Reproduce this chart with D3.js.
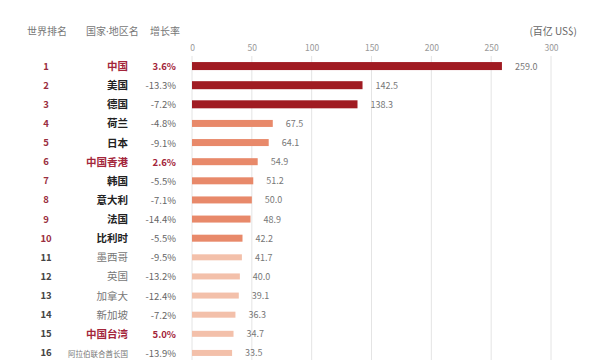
<!DOCTYPE html>
<html><head><meta charset="utf-8">
<script src="https://cdn.jsdelivr.net/npm/d3@7"></script>
<style>body{margin:0;background:#fff}svg{display:block}</style>
</head><body>
<svg id="c" width="600" height="360"></svg>
<script>
const ranks = [1,2,3,4,5,6,7,8,9,10,11,12,13,14,15,16];
const countries = ["中国","美国","德国","荷兰","日本","中国香港","韩国","意大利","法国","比利时","墨西哥","英国","加拿大","新加坡","中国台湾","阿拉伯联合酋长国"];
const growth = ["3.6%","-13.3%","-7.2%","-4.8%","-9.1%","2.6%","-5.5%","-7.1%","-14.4%","-5.5%","-9.5%","-13.2%","-12.4%","-7.2%","5.0%","-13.9%"];
const values = [259.0,142.5,138.3,67.5,64.1,54.9,51.2,50.0,48.9,42.2,41.7,40.0,39.1,36.3,34.7,33.5];
const tiers = [1,1,1,2,2,2,2,2,2,2,3,3,3,3,3,3];
const highlight = [1,0,0,0,0,1,0,0,0,0,0,0,0,0,1,0];
const xTicks = [0,50,100,150,200,250,300];

const svg = d3.select("#c");
const font = "'Noto Sans CJK SC','Noto Sans',sans-serif";
const x = d3.scaleLinear().domain([0,300]).range([192,551]);
const y = d3.scaleBand().domain(ranks).range([56.5,362.5]).paddingInner(0);
const cy = r => y(r) + y.bandwidth()/2;

const tierColor = {1:"#a01b22",2:"#e8896a",3:"#f3c0aa"};
const tierH = {1:8,2:7,3:6};

// gridlines
svg.append("g").selectAll("line").data(xTicks).join("line")
  .attr("x1",d=>x(d)).attr("x2",d=>x(d)).attr("y1",56).attr("y2",360)
  .attr("stroke","#e4e4e4").attr("stroke-width",1);

// axis tick labels
const ax = svg.append("g").attr("transform","translate(0,51)")
  .call(d3.axisTop(x).tickValues(xTicks).tickSize(0).tickPadding(0));
ax.select(".domain").remove();
ax.selectAll("text").attr("fill","#999").attr("font-size",8.5).attr("font-family",font);

// headers
const hdr = svg.append("g").attr("font-family",font).attr("font-size",10).attr("fill","#777");
hdr.append("text").attr("x",27).attr("y",35).text("世界排名");
const h2 = hdr.append("text").attr("x",86).attr("y",35);
h2.append("tspan").text("国家");
h2.append("tspan").attr("font-family","'Noto Sans',sans-serif").text("·");
h2.append("tspan").text("地区名");
hdr.append("text").attr("x",150).attr("y",35).text("增长率");
svg.append("text").attr("x",577).attr("y",35).attr("text-anchor","end")
  .attr("font-family",font).attr("font-size",10).attr("fill","#666").text("(百亿 US$)");

const idx = d3.range(ranks.length);

// bars
svg.append("g").selectAll("rect").data(idx).join("rect")
  .attr("x",x(0)).attr("y",i=>cy(ranks[i]) - tierH[tiers[i]]/2)
  .attr("width",i=>x(values[i])-x(0)).attr("height",i=>tierH[tiers[i]])
  .attr("fill",i=>tierColor[tiers[i]]);

// value labels
svg.append("g").selectAll("text").data(idx).join("text")
  .attr("x",i=>x(values[i])+13).attr("y",i=>cy(ranks[i])+3.5)
  .attr("font-family",font).attr("font-size",9).attr("fill","#777")
  .text(i=>values[i].toFixed(1));

// ranks
svg.append("g").selectAll("text").data(idx).join("text")
  .attr("x",46).attr("y",i=>cy(ranks[i])+3.5).attr("text-anchor","middle")
  .attr("font-family",font).attr("font-size",9.5).attr("font-weight","bold")
  .attr("fill",i=>tiers[i]<3 ? "#9a2e40" : "#444")
  .text(i=>ranks[i]);

// countries
svg.append("g").selectAll("text").data(idx).join("text")
  .attr("x",128).attr("y",i=>cy(ranks[i])+4).attr("text-anchor","end")
  .attr("font-family",font)
  .attr("font-size",i=>countries[i].length>6?7.5:10.5)
  .attr("font-weight",i=>(highlight[i]||tiers[i]<3)?"bold":"normal")
  .attr("fill",i=>highlight[i]?"#a3253a":(tiers[i]<3?"#222":"#777"))
  .text(i=>countries[i]);

// growth
svg.append("g").selectAll("text").data(idx).join("text")
  .attr("x",176).attr("y",i=>cy(ranks[i])+4).attr("text-anchor","end")
  .attr("font-family",font).attr("font-size",9.5)
  .attr("font-weight",i=>highlight[i]?"bold":"normal")
  .attr("fill",i=>highlight[i]?"#a3253a":"#666")
  .text(i=>growth[i]);
</script>
</body></html>
